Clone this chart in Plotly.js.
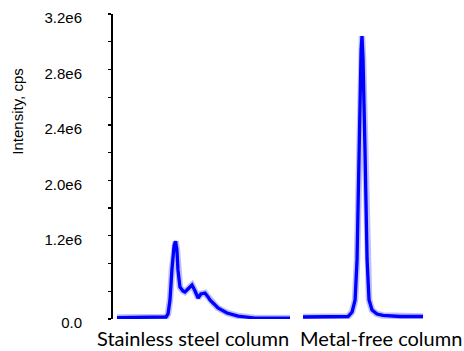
<!DOCTYPE html>
<html>
<head>
<meta charset="utf-8">
<script src="https://cdn.plot.ly/plotly-3.0.1.min.js"></script>
<style>html,body{margin:0;padding:0;background:#fff;}#chart{width:464px;height:351px;}</style>
</head>
<body>
<div id="chart"></div>
<script>
// Stainless steel column chromatogram (time, min ; intensity, cps as read against the axis labels)
const ssTime = [0.00, 1.53, 2.27, 2.36, 2.45, 2.54, 2.64, 2.71, 2.77, 2.82, 2.91, 3.05, 3.14, 3.28, 3.47, 3.61, 3.75, 3.88, 4.07, 4.21, 4.30, 4.49, 4.67, 5.09, 5.60, 6.38, 8.00];
const ssIntensity = [2.0e4, 2.0e4, 2.9e4, 7.2e4, 2.74e5, 7.08e5, 1.06e6, 1.12e6, 1.0e6, 7.08e5, 4.62e5, 4.04e5, 3.90e5, 4.33e5, 4.91e5, 4.04e5, 3.03e5, 3.61e5, 3.75e5, 3.18e5, 2.74e5, 2.17e5, 1.59e5, 8.7e4, 4.3e4, 1.4e4, 1.4e4];
// Metal-free column chromatogram
const mfTime = [0.00, 1.80, 3.00, 3.27, 3.47, 3.60, 3.73, 3.87, 3.93, 4.00, 4.13, 4.27, 4.40, 4.60, 4.93, 5.33, 6.47, 8.00];
const mfIntensity = [2.9e4, 2.9e4, 3.6e4, 1.01e5, 2.74e5, 8.52e5, 2.22e6, 2.94e6, 3.04e6, 2.87e6, 2.22e6, 8.52e5, 2.74e5, 1.30e5, 7.2e4, 5.1e4, 3.6e4, 3.6e4];

const categories = ["Stainless steel column", "Metal-free column"];
const yTickLabels = ["0.0", "1.2e6", "2.0e6", "2.4e6", "2.8e6", "3.2e6"];
const yTickLabelValues = [0, 1.2e6, 2.0e6, 2.4e6, 2.8e6, 3.2e6];
const yTitle = "Intensity, cps";

// The original axis is not linear: below the 1.2e6 label it is compressed 2x.
function toAxis(v) { return v <= 1.2e6 ? v * 0.5 : v - 1.0e6; }

const blue = 'rgb(0,0,255)';
function traces(t, y, xa) {
  const ya = y.map(toAxis);
  return [
    {x: t, y: ya, xaxis: xa, yaxis: 'y', mode: 'lines', line: {color: 'rgba(0,0,255,0.25)', width: 6.5}, hoverinfo: 'skip', showlegend: false},
    {x: t, y: ya, xaxis: xa, yaxis: 'y', mode: 'lines', line: {color: blue, width: 3.3}, showlegend: false}
  ];
}

const data = [].concat(traces(ssTime, ssIntensity, 'x'), traces(mfTime, mfIntensity, 'x2'));

// tick marks every 0.2e6 axis-units, labels only where the original had them
const tickvals = [];
const ticktext = [];
for (let i = 0; i <= 11; i++) { tickvals.push(i * 0.2e6); ticktext.push(''); }
yTickLabelValues.forEach((v, i) => {
  const a = toAxis(v);
  const k = tickvals.findIndex(tv => Math.abs(tv - a) < 1);
  if (k >= 0) ticktext[k] = yTickLabels[i];
});

const hiddenX = {showline: false, showticklabels: false, showgrid: false, zeroline: false, ticks: '', anchor: 'y', fixedrange: true};

const layout = {
  width: 464, height: 351,
  margin: {l: 111, r: 0, t: 14, b: 32},
  paper_bgcolor: '#fff', plot_bgcolor: '#fff',
  showlegend: false,
  xaxis: Object.assign({}, hiddenX, {domain: [0.017, 0.507], range: [0, 8]}),
  xaxis2: Object.assign({}, hiddenX, {domain: [0.544, 0.884], range: [0, 8]}),
  yaxis: {
    anchor: 'free', position: 0,
    range: [0, 2.2e6],
    showline: true, linecolor: '#000', linewidth: 1.5,
    showgrid: false, zeroline: false,
    ticks: 'outside', ticklen: 3, tickwidth: 1.2, tickcolor: '#000',
    tickmode: 'array', tickvals: tickvals, ticktext: ticktext,
    ticklabelstandoff: 23, ticklabelshift: 4,
    tickfont: {family: 'Liberation Sans, Arial', size: 15, color: '#000'}
  },
  annotations: [
    {text: yTitle, xref: 'paper', yref: 'paper', x: -0.266, y: 0.68, xanchor: 'center', yanchor: 'middle', textangle: -90, showarrow: false,
     font: {family: 'Liberation Sans, Arial', size: 15, color: '#000'}},
    {text: categories[0], xref: 'x', yref: 'paper', x: 3.51, y: -32 / 305, xanchor: 'center', yanchor: 'bottom', showarrow: false, borderpad: 0,
     font: {family: 'Lato', size: 20, color: '#000'}},
    {text: categories[1], xref: 'x2', yref: 'paper', x: 5.23, y: -32 / 305, xanchor: 'center', yanchor: 'bottom', showarrow: false, borderpad: 0,
     font: {family: 'Lato', size: 20, color: '#000'}}
  ]
};

Plotly.newPlot('chart', data, layout, {displayModeBar: false, staticPlot: true});
</script>
</body>
</html>
